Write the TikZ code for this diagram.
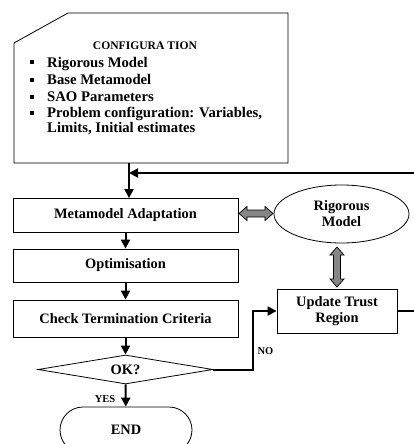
\documentclass[tikz,border=0pt]{standalone}
\usepackage{fontspec}
\setmainfont{Liberation Serif}
\usetikzlibrary{arrows.meta,shapes.geometric,shapes.misc,calc}
\begin{document}
\begin{tikzpicture}[x=1pt,y=-1pt,
  box/.style={draw, line width=0.8pt, minimum width=225pt, inner sep=0pt, font=\fontsize{14.4}{16}\selectfont\bfseries},
  conn/.style={line width=2pt, -{Triangle[length=9pt,width=9pt]}},
  plain/.style={line width=2pt},
  cfgtxt/.style={anchor=base west, inner sep=0pt, font=\fontsize{14.7}{16}\selectfont\bfseries},
  bul/.style={fill=black, minimum size=4.5pt, inner sep=0pt},
  dbl/.style={draw, fill=gray!95, line width=0.7pt},
  lbl/.style={font=\fontsize{10.5}{12}\selectfont\bfseries, inner sep=0pt}
]
\useasboundingbox (0,0) rectangle (414,444);
\clip (0,0) rectangle (414,444);
% configuration box
\draw[line width=0.8pt] (14,43) -- (68,13) -- (288,13) -- (288,163) -- (14,163) -- cycle;
\coordinate (cfgb) at (129,163);
\node[font=\fontsize{11.6}{13}\selectfont\bfseries, inner sep=0pt] (head) at (145,45.5) {CONFIGURA TION};
\node[bul] (b1) at (32,62) {};
\node[cfgtxt] (t1) at (47,67) {Rigorous Model};
\node[bul] (b2) at (32,80) {};
\node[cfgtxt] (t2) at (47,84) {Base Metamodel};
\node[bul] (b3) at (32,97) {};
\node[cfgtxt] (t3) at (47,101) {SAO Parameters};
\node[bul] (b4) at (32,113) {};
\node[cfgtxt] (t4) at (47,117) {Problem configuration: Variables,};
\node[cfgtxt] (t5) at (47,132) {Limits, Initial estimates};
% boxes
\node[box, minimum height=34pt] (meta) at (125.5,215.5) {Metamodel Adaptation};
\node[box, minimum height=33pt] (opt) at (125.5,265.5) {Optimisation};
\node[box, minimum height=37pt] (chk) at (125.5,318.5) {Check Termination Criteria};
\node[draw, line width=0.8pt, diamond, aspect=6, minimum width=175pt, minimum height=29pt, inner sep=0pt,
      font=\fontsize{14.4}{16}\selectfont\bfseries] (ok) at (125.5,369.5) {OK?};
\node[draw, line width=0.8pt, rounded rectangle, minimum width=132pt, minimum height=46pt, inner sep=0pt,
      font=\fontsize{14.4}{16}\selectfont\bfseries] (end) at (126,430) {END};
\node[draw, line width=0.8pt, ellipse, minimum width=135pt, minimum height=58pt, inner sep=0pt, align=center,
      font=\fontsize{14.4}{16}\selectfont\bfseries] (rig) at (341.5,214) {Rigorous\\Model};
\node[draw, line width=0.8pt, minimum width=120pt, minimum height=44pt, inner sep=0pt, align=center,
      font=\fontsize{14.4}{16}\selectfont\bfseries] (upd) at (337,311) {Update Trust\\Region};
% connectors
\draw[conn] (cfgb) -- (cfgb |- meta.north);
\draw[conn] (meta) -- (opt);
\draw[conn] (opt) -- (chk);
\draw[conn] (chk) -- (ok);
\draw[conn] (ok) -- (end);
\coordinate (fbA) at (420,311);
\coordinate (fbB) at (420,173);
\draw[conn] (upd.east) -- (fbA) -- (fbB) -- (cfgb |- fbB);
\coordinate (noA) at (252.5,369.5);
\draw[conn] (ok.east) -- (noA) -- (noA |- upd.west) -- (upd.west);
\node[lbl] (no) at (265.5,351) {NO};
\node[lbl] (yes) at (105,399) {YES};
% gray double arrows
\draw[dbl] (239,213.5) -- ++(8,-7) -- ++(0,3.5) -- ++(18,0) -- ++(0,-3.5) -- ++(8,7)
  -- ++(-8,7) -- ++(0,-3.5) -- ++(-18,0) -- ++(0,3.5) -- cycle;
\draw[dbl] (337,247) -- ++(7,8) -- ++(-3.5,0) -- ++(0,24) -- ++(3.5,0) -- ++(-7,8)
  -- ++(-7,-8) -- ++(3.5,0) -- ++(0,-24) -- ++(-3.5,0) -- cycle;
\end{tikzpicture}
\end{document}
